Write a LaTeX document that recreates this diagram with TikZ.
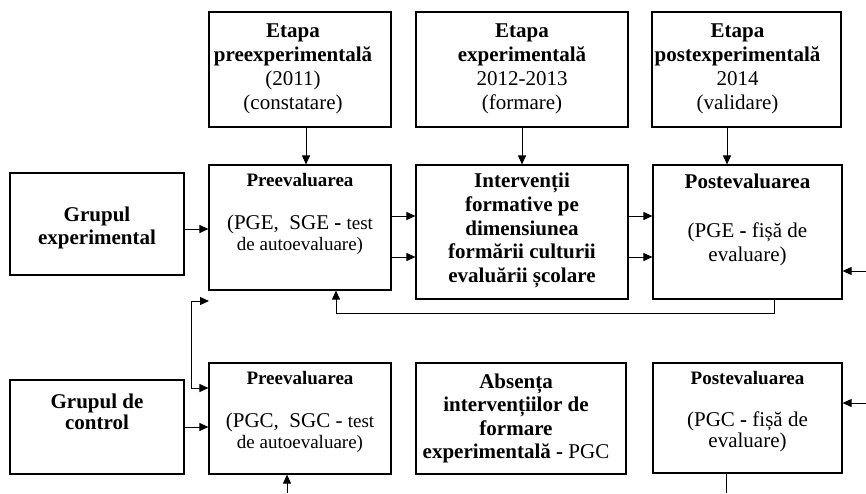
\documentclass[tikz,border=0pt]{standalone}
\usepackage{fontspec}
\setmainfont{Liberation Serif}
\usetikzlibrary{arrows.meta}

\newcommand{\smalltxt}{\fontsize{19}{21}\selectfont}

\begin{document}
\begin{tikzpicture}[x=1pt,y=-1pt,line width=1pt,
    font=\fontsize{21}{24}\selectfont]

        \useasboundingbox (0,0) rectangle (866,493);

        \begin{scope}[every node/.style={draw,rectangle,inner sep=0pt,line width=1.2pt}]
          % etape
          \node[minimum width=182pt,minimum height=115pt] (e1) at (300,69.5)  {};
          \node[minimum width=212pt,minimum height=115pt] (e2) at (522,69.5)  {};
          \node[minimum width=189pt,minimum height=115pt] (e3) at (746.5,69.5) {};
          % grupul experimental
          \node[minimum width=174pt,minimum height=102pt] (ge)    at (97,224)    {};
          \node[minimum width=182pt,minimum height=125pt] (preE)  at (300,227.5) {};
          \node[minimum width=212pt,minimum height=134pt] (iv)    at (522,232)   {};
          \node[minimum width=189pt,minimum height=134pt] (postE) at (747.5,232) {};
          % grupul de control
          \node[minimum width=174pt,minimum height=94pt]  (gc)    at (97,427)    {};
          \node[minimum width=182pt,minimum height=111pt] (preC)  at (300,418.5) {};
          \node[minimum width=210pt,minimum height=111pt] (ab)    at (521,418.5) {};
          \node[minimum width=189pt,minimum height=110pt] (postC) at (747.5,418) {};
        \end{scope}

        \begin{scope}[every node/.style={align=center,inner sep=0pt}]
          \node (e1t) at ([xshift=-7pt,yshift=1pt]e1)
            {\textbf{Etapa}\\ \textbf{preexperimentală}\\ (2011)\\ (constatare)};
          \node (e2t) at ([yshift=1pt]e2)
            {\textbf{Etapa}\\ \textbf{experimentală}\\ 2012-2013\\ (formare)};
          \node (e3t) at ([xshift=-9pt,yshift=1pt]e3)
            {\textbf{Etapa}\\ \textbf{postexperimentală}\\ 2014\\ (validare)};

          \node[font=\fontsize{21}{23}\selectfont] (get) at ([yshift=-3.5pt]ge)
            {\textbf{Grupul}\\ \textbf{experimental}};
          \node[font=\fontsize{21}{21}\selectfont] (preEt) at ([yshift=14pt]preE)
            {{\smalltxt\textbf{Preevaluarea}}\\[22pt]
             (PGE,\ \ SGE \textbf{-} {\smalltxt test}\\ {\smalltxt de autoevaluare)}};
          \node[font=\fontsize{21}{23.75}\selectfont] (ivt) at ([yshift=1.5pt]iv)
            {\textbf{Intervenții}\\ \textbf{formative pe}\\ \textbf{dimensiunea}\\
             \textbf{formării culturii}\\ \textbf{evaluării școlare}};
          \node[font=\fontsize{21}{24.5}\selectfont] (postEt) at ([yshift=12pt]postE)
            {\textbf{Postevaluarea}\\[24.5pt] (PGE \textbf{-} fișă de\\ evaluare)};

          \node[font=\fontsize{21}{21}\selectfont] (gct) at ([yshift=15.5pt]gc)
            {\textbf{Grupul de}\\ \textbf{control}};
          \node[font=\fontsize{21}{21}\selectfont] (preCt) at ([yshift=7pt]preC)
            {{\smalltxt\textbf{Preevaluarea}}\\[22pt]
             (PGC,\ \ SGC - {\smalltxt test}\\ {\smalltxt de autoevaluare)}};
          \node[font=\fontsize{21}{23.3}\selectfont] (abt) at ([xshift=-5pt]ab)
            {\textbf{Absența}\\ \textbf{intervențiilor de}\\ \textbf{formare}\\
             \textbf{experimentală -} PGC};
          \node[font=\fontsize{21}{21}\selectfont] (postCt) at ([yshift=6.5pt]postC)
            {{\smalltxt\textbf{Postevaluarea}}\\[21pt] (PGC \textbf{-} fișă de\\ evaluare)};
        \end{scope}

        \coordinate (up)   at (209,301);
        \coordinate (in1)  at (866,271);
        \coordinate (in2)  at (866,403);
        \coordinate (bot1) at (287,493);
        \coordinate (bot2) at (726,493);

        \begin{scope}[every edge/.style={draw,-{Triangle[length=9pt,width=8pt]}}]
          \path ([xshift=6pt]e1.south)     edge ([xshift=6pt]e1.south |- preE.north);
          \path (e2)                       edge (iv);
          \path ([xshift=-19.5pt]e3.south) edge ([xshift=-19.5pt]e3.south |- postE.north);

          \path ([yshift=-5pt]ge.east)     edge ([yshift=-5pt]ge.east -| preE.west);
          \path ([yshift=11.5pt]preE.east) edge ([yshift=11.5pt]preE.east -| iv.west);
          \path ([yshift=-29.5pt]preE.east) edge ([yshift=-29.5pt]preE.east -| iv.west);
          \path ([yshift=16pt]iv.east)     edge ([yshift=16pt]iv.east -| postE.west);
          \path ([yshift=-25pt]iv.east)    edge ([yshift=-25pt]iv.east -| postE.west);
          \path (in1)                      edge (in1 -| postE.east);

          \path (gc)                       edge (gc -| preC.west);
          \path (bot1)                     edge (bot1 |- preC.south);
          \path (in2)                      edge (in2 -| postC.east);
        \end{scope}

        \draw[-{Triangle[length=9pt,width=8pt]}] ([xshift=26.5pt]postE.south)
          -- ++(0,14) -| ([xshift=36pt]preE.south);
        \draw[{Triangle[length=9pt,width=8pt]}-{Triangle[length=9pt,width=8pt]}]
          (up) -- ++(-18,0) |- ([yshift=30.5pt]preC.west);
        \draw ([xshift=-21.5pt]postC.south) -- (bot2);

      \end{tikzpicture}
\end{document}
